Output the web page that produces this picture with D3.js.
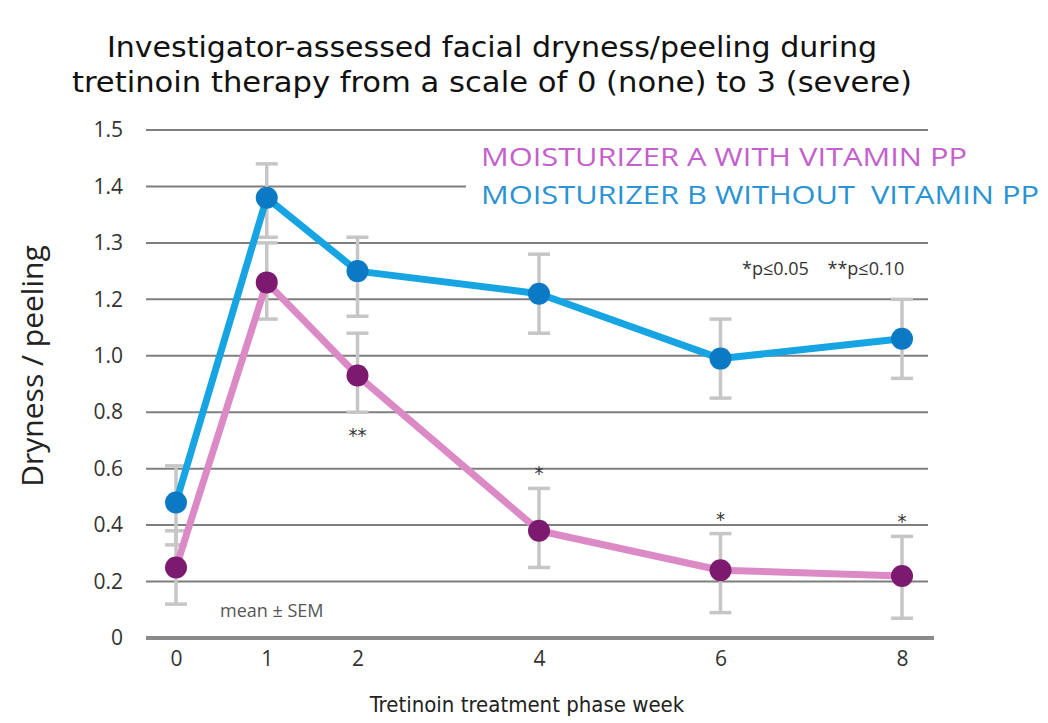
<!DOCTYPE html>
<html>
<head>
<meta charset="utf-8">
<script src="https://cdn.jsdelivr.net/npm/d3@7"></script>
<style>
  body { margin: 0; background: #fff; }
  svg { font-family: "DejaVu Sans Condensed", "DejaVu Sans", sans-serif; }
</style>
</head>
<body>
<div id="chart"></div>
<script>
// data
var weeks = [0, 1, 2, 4, 6, 8];
var yTicks = [0, 0.2, 0.4, 0.6, 0.8, 1.0, 1.2, 1.3, 1.4, 1.5];
var yTickLabels = ["0", "0.2", "0.4", "0.6", "0.8", "1.0", "1.2", "1.3", "1.4", "1.5"];

var valuesB = [0.48, 1.38, 1.25, 1.21, 0.99, 1.06];
var hiB = [0.61, 1.44, 1.31, 1.28, 1.13, 1.20];
var loB = [0.33, 1.31, 1.14, 1.08, 0.85, 0.92];

var valuesA = [0.25, 1.23, 0.93, 0.38, 0.24, 0.22];
var hiA = [0.38, 1.30, 1.08, 0.53, 0.37, 0.36];
var loA = [0.12, 1.13, 0.80, 0.25, 0.09, 0.07];

var sigMarks = ["", "", "**", "*", "*", "*"];

var width = 1048, height = 723;
var plotLeft = 146, plotRight = 928, plotTop = 130, plotBottom = 638;

var svg = d3.select("#chart").append("svg")
    .attr("width", width)
    .attr("height", height);

var x = d3.scaleLinear().domain([0, 8]).range([176, 902]);
// axis labels are unevenly valued but evenly spaced
var y = d3.scaleLinear()
    .domain(yTicks)
    .range(yTicks.map(function(d, i) { return plotBottom - i * (plotBottom - plotTop) / (yTicks.length - 1); }));

// title
svg.append("text")
    .attr("x", 492).attr("y", 57)
    .attr("text-anchor", "middle")
    .attr("font-size", 28)
    .attr("fill", "#111")
    .attr("textLength", 770).attr("lengthAdjust", "spacingAndGlyphs")
    .text("Investigator-assessed facial dryness/peeling during");
svg.append("text")
    .attr("x", 492).attr("y", 92)
    .attr("text-anchor", "middle")
    .attr("font-size", 28)
    .attr("fill", "#111")
    .attr("textLength", 840).attr("lengthAdjust", "spacingAndGlyphs")
    .text("tretinoin therapy from a scale of 0 (none) to 3 (severe)");

// gridlines
svg.append("g").selectAll("line")
    .data(yTicks.slice(1))
    .enter().append("line")
    .attr("x1", plotLeft).attr("x2", plotRight)
    .attr("y1", function(d) { return y(d); })
    .attr("y2", function(d) { return y(d); })
    .attr("stroke", "#7f7f7f")
    .attr("stroke-width", 2);

// y axis labels
var yAxis = d3.axisLeft(y)
    .tickValues(yTicks)
    .tickFormat(function(d, i) { return yTickLabels[i]; })
    .tickSize(0)
    .tickPadding(0);
var yg = svg.append("g").attr("transform", "translate(123,0)").call(yAxis);
yg.select(".domain").remove();
yg.selectAll("text")
    .attr("font-size", 21)
    .attr("fill", "#333")
    .attr("font-family", "'Open Sans', sans-serif");

// baseline
svg.append("line")
    .attr("x1", plotLeft).attr("x2", 934)
    .attr("y1", y(0)).attr("y2", y(0))
    .attr("stroke", "#8a8a8a")
    .attr("stroke-width", 4);

// x axis labels
var xAxis = d3.axisBottom(x).tickValues(weeks).tickSize(0).tickPadding(0);
var xg = svg.append("g").attr("transform", "translate(0," + (y(0) + 13) + ")").call(xAxis);
xg.select(".domain").remove();
xg.selectAll("text")
    .attr("font-size", 21)
    .attr("fill", "#333")
    .attr("font-family", "'Open Sans', sans-serif");

svg.append("text")
    .attr("x", 527).attr("y", 712)
    .attr("text-anchor", "middle")
    .attr("font-size", 22)
    .attr("fill", "#222")
    .text("Tretinoin treatment phase week");

svg.append("text")
    .attr("transform", "translate(43,366) rotate(-90)")
    .attr("text-anchor", "middle")
    .attr("font-size", 30)
    .attr("fill", "#222")
    .attr("font-family", "'Open Sans', sans-serif")
    .text("Dryness / peeling");

// error bars
function errorBars(lo, hi) {
  var g = svg.append("g").attr("stroke", "#c6c6c6").attr("stroke-width", 3.5);
  weeks.forEach(function(w, i) {
    g.append("line").attr("x1", x(w)).attr("x2", x(w)).attr("y1", y(hi[i])).attr("y2", y(lo[i]));
    g.append("line").attr("x1", x(w) - 11).attr("x2", x(w) + 11).attr("y1", y(hi[i])).attr("y2", y(hi[i]));
    g.append("line").attr("x1", x(w) - 11).attr("x2", x(w) + 11).attr("y1", y(lo[i])).attr("y2", y(lo[i]));
  });
}
errorBars(loB, hiB);
errorBars(loA, hiA);

var line = d3.line()
    .x(function(d, i) { return x(weeks[i]); })
    .y(function(d) { return y(d); });

function series(vals, lineColor, dotColor) {
  svg.append("path")
      .datum(vals)
      .attr("d", line)
      .attr("fill", "none")
      .attr("stroke", lineColor)
      .attr("stroke-width", 7)
      .attr("stroke-linejoin", "round");
  svg.append("g").selectAll("circle")
      .data(vals)
      .enter().append("circle")
      .attr("cx", function(d, i) { return x(weeks[i]); })
      .attr("cy", function(d) { return y(d); })
      .attr("r", 11)
      .attr("fill", dotColor);
}
series(valuesA, "#dc8ac6", "#7b1a6f");
series(valuesB, "#16a4e2", "#0c79c4");

// significance marks
svg.append("g").selectAll("text")
    .data(sigMarks)
    .enter().append("text")
    .attr("x", function(d, i) { return x(weeks[i]); })
    .attr("y", function(d, i) { return d === "**" ? y(loA[i]) + 30 : y(hiA[i]) - 8; })
    .attr("text-anchor", "middle")
    .attr("font-size", 20)
    .attr("fill", "#333")
    .text(function(d) { return d; });

svg.append("text")
    .attr("x", 742).attr("y", 275)
    .attr("font-size", 18)
    .attr("fill", "#333")
    .attr("font-family", "'Open Sans', sans-serif")
    .attr("xml:space", "preserve")
    .text("*p\u22640.05    **p\u22640.10");

svg.append("text")
    .attr("x", 220).attr("y", 617)
    .attr("font-size", 18)
    .attr("fill", "#555")
    .attr("font-family", "'Open Sans', sans-serif")
    .text("mean \u00b1 SEM");

// legend, on a white box that hides the gridline behind it
svg.append("rect")
    .attr("x", 466).attr("y", 140)
    .attr("width", 582).attr("height", 76)
    .attr("fill", "#fff");
svg.append("text")
    .attr("x", 481).attr("y", 166)
    .attr("font-size", 26)
    .attr("fill", "#c45fcd")
    .attr("font-family", "'Open Sans', sans-serif")
    .attr("textLength", 486).attr("lengthAdjust", "spacingAndGlyphs")
    .text("MOISTURIZER A WITH VITAMIN PP");
svg.append("text")
    .attr("x", 481).attr("y", 204)
    .attr("font-size", 26)
    .attr("fill", "#2a93d4")
    .attr("font-family", "'Open Sans', sans-serif")
    .attr("textLength", 558).attr("lengthAdjust", "spacingAndGlyphs")
    .attr("xml:space", "preserve")
    .text("MOISTURIZER B WITHOUT  VITAMIN PP");
</script>
</body>
</html>
